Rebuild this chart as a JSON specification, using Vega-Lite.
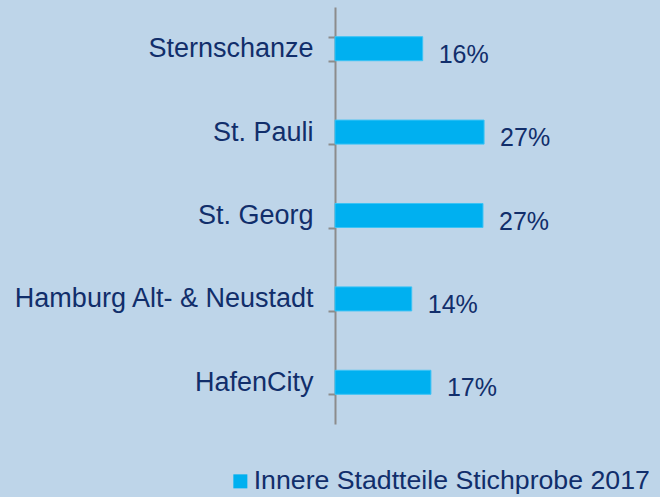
{
  "$schema": "https://vega.github.io/schema/vega-lite/v6.json",
  "autosize": "none",
  "width": 325,
  "height": 417,
  "padding": {"left": 335, "top": 7, "right": 0, "bottom": 73},
  "background": "#BED5E9",
  "config": {
    "view": {"stroke": null},
    "font": "Liberation Sans"
  },
  "data": {
    "values": [
      {"stadtteil": "Sternschanze", "wert": 16, "label": "16%", "serie": "Innere Stadtteile Stichprobe 2017"},
      {"stadtteil": "St. Pauli", "wert": 27.2, "label": "27%", "serie": "Innere Stadtteile Stichprobe 2017"},
      {"stadtteil": "St. Georg", "wert": 27, "label": "27%", "serie": "Innere Stadtteile Stichprobe 2017"},
      {"stadtteil": "Hamburg Alt- & Neustadt", "wert": 14, "label": "14%", "serie": "Innere Stadtteile Stichprobe 2017"},
      {"stadtteil": "HafenCity", "wert": 17.5, "label": "17%", "serie": "Innere Stadtteile Stichprobe 2017"}
    ]
  },
  "encoding": {
    "y": {
      "field": "stadtteil",
      "type": "nominal",
      "sort": null,
      "scale": {"paddingInner": 0.712, "paddingOuter": 0.356},
      "axis": {
        "title": null,
        "tickBand": "extent",
        "tickSize": 7,
        "tickColor": "#8C8C8C",
        "tickWidth": 2,
        "domainColor": "#8C8C8C",
        "domainWidth": 2,
        "labelFont": "Liberation Sans",
        "labelFontSize": 27,
        "labelColor": "#112E6B",
        "labelPadding": 15,
        "labelLimit": 400
      }
    },
    "x": {
      "field": "wert",
      "type": "quantitative",
      "scale": {"domain": [0, 59.3], "nice": false},
      "axis": null
    }
  },
  "layer": [
    {
      "mark": {"type": "bar", "stroke": "#3CC3F5", "strokeWidth": 1},
      "encoding": {
        "color": {
          "field": "serie",
          "type": "nominal",
          "scale": {"range": ["#00B0F0"]},
          "legend": {
            "title": null,
            "orient": "none",
            "legendX": -108,
            "legendY": 461,
            "symbolType": "square",
            "symbolSize": 196,
            "symbolStrokeWidth": 0,
            "labelFont": "Liberation Sans",
            "labelFontSize": 26.7,
            "labelColor": "#112E6B",
            "labelOffset": 0,
            "labelLimit": 500
          }
        }
      }
    },
    {
      "mark": {"type": "text", "align": "left", "baseline": "middle", "dx": 16, "dy": 6, "fontSize": 25, "color": "#112E6B", "font": "Liberation Sans"},
      "encoding": {"text": {"field": "label"}}
    }
  ]
}
